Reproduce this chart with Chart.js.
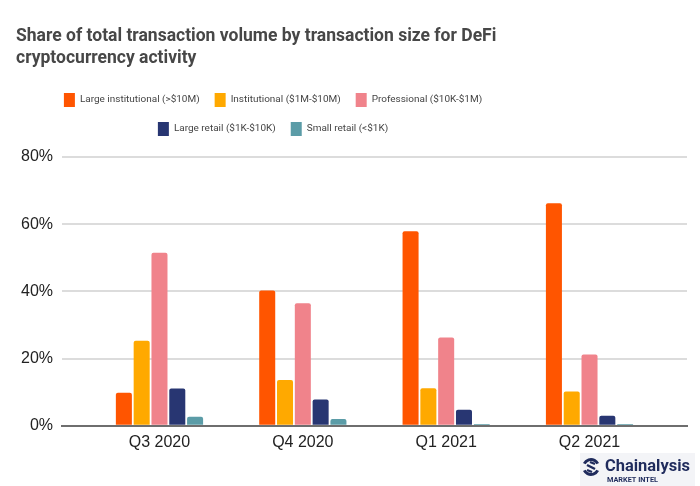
<!DOCTYPE html>
<html>
<head>
<meta charset="utf-8">
<script src="https://cdn.jsdelivr.net/npm/chart.js@4/dist/chart.umd.min.js"></script>
<style>
  html, body { margin: 0; padding: 0; background: #ffffff; }
  #wrap { width: 700px; height: 486px; position: relative; }
</style>
</head>
<body>
<div id="wrap"><canvas id="c" width="700" height="486"></canvas></div>
<script>
// ---- data ----
const categories = ['Q3 2020', 'Q4 2020', 'Q1 2021', 'Q2 2021'];
const seriesNames = [
  'Large institutional (>$10M)',
  'Institutional ($1M-$10M)',
  'Professional ($10K-$1M)',
  'Large retail ($1K-$10K)',
  'Small retail (<$1K)'
];
const largeInstitutional = [9.8, 40.3, 57.9, 66.2];
const institutional      = [25.3, 13.6, 11.2, 10.2];
const professional       = [51.5, 36.5, 26.3, 21.2];
const largeRetail        = [11.1, 7.8, 4.8, 3.0];
const smallRetail        = [2.7, 2.0, 0.5, 0.5];
const yTickValues = [0, 20, 40, 60, 80];
const titleLines = ['Share of total transaction volume by transaction size for DeFi', 'cryptocurrency activity'];
const seriesColors = ['#FF5500', '#FFA900', '#F0838B', '#283672', '#5B9CA7'];

const seriesValues = [largeInstitutional, institutional, professional, largeRetail, smallRetail];

const FAM = 'Roboto, "Liberation Sans", sans-serif';
const LEGEND_W = 514;

// font size that makes a text span a given width
const mctx = document.createElement('canvas').getContext('2d');
function fitSize(text, target, weight, family) {
  mctx.font = weight + ' 100px ' + family;
  return 100 * target / mctx.measureText(text).width;
}
const titleSize = fitSize(titleLines[0], 481, 'bold', FAM);
const legendSize = fitSize(seriesNames[0], 120, 'normal', FAM);
const logoSize = fitSize('Chainalysis', 85, 'bold', FAM);
const logoSubSize = fitSize('MARKET INTEL', 51, 'bold', FAM);

const legendFit = {
  id: 'legendFit',
  afterInit(chart) {
    const lg = chart.legend;
    const upd = lg.update.bind(lg);
    lg.update = (w, h, m) => { upd(LEGEND_W, h, m); lg.height += 11; };
  },
  afterLayout(chart) {
    const lg = chart.legend;
    lg.right = lg.left + LEGEND_W;
  }
};

const logo = {
  id: 'logo',
  afterDraw(chart) {
    const ctx = chart.ctx;
    ctx.save();
    ctx.fillStyle = '#f3f4f7';
    ctx.fillRect(580, 453, 115, 33);
    const cx = 591, cy = 467, r = 7.5;
    ctx.strokeStyle = '#1f2b5c';
    ctx.lineWidth = 3;
    ctx.beginPath(); ctx.arc(cx, cy, r, Math.PI * 0.15, Math.PI * 0.85); ctx.stroke();
    ctx.beginPath(); ctx.arc(cx, cy, r, Math.PI * 1.15, Math.PI * 1.85); ctx.stroke();
    ctx.lineWidth = 2.4;
    ctx.beginPath(); ctx.moveTo(cx - 4, cy - 2); ctx.lineTo(cx + 4, cy + 2); ctx.stroke();
    ctx.beginPath(); ctx.moveTo(cx - 4, cy + 3); ctx.lineTo(cx + 1, cy + 5); ctx.stroke();
    ctx.beginPath(); ctx.moveTo(cx - 1, cy - 5); ctx.lineTo(cx + 4, cy - 3); ctx.stroke();
    ctx.fillStyle = '#1f2b5c';
    ctx.textBaseline = 'alphabetic';
    ctx.textAlign = 'left';
    ctx.font = 'bold ' + logoSize + 'px ' + FAM;
    ctx.fillText('Chainalysis', 605, 471);
    ctx.font = 'bold ' + logoSubSize + 'px ' + FAM;
    ctx.fillText('MARKET INTEL', 607, 482);
    ctx.restore();
  }
};

const datasets = seriesNames.map((name, k) => ({
  label: name,
  data: seriesValues[k].map((v, i) => ({ x: i, y: v })),
  backgroundColor: seriesColors[k],
  borderColor: seriesColors[k],
  borderWidth: 0,
  borderRadius: 2,
  categoryPercentage: 0.621,
  barPercentage: 0.9
}));

Chart.defaults.font.family = '"Liberation Sans", Arial, sans-serif';
Chart.defaults.color = '#222';

new Chart(document.getElementById('c'), {
  type: 'bar',
  data: { datasets },
  plugins: [legendFit, logo],
  options: {
    responsive: false,
    animation: false,
    layout: { padding: { left: 16, right: 13, top: 0, bottom: 27 } },
    plugins: {
      tooltip: { enabled: false },
      title: {
        display: true,
        align: 'start',
        text: titleLines,
        color: '#474747',
        font: { family: FAM, size: titleSize, weight: 'bold', lineHeight: 22 / titleSize },
        padding: { top: 26, bottom: 8 }
      },
      legend: {
        display: true,
        position: 'top',
        align: 'center',
        labels: {
          boxWidth: 11,
          boxHeight: 14,
          padding: 15,
          color: '#444',
          font: { family: FAM, size: legendSize }
        }
      }
    },
    scales: {
      x: {
        type: 'linear',
        offset: false,
        min: -0.68,
        max: 3.68,
        afterBuildTicks: (s) => { s.ticks = categories.map((c, i) => ({ value: i })); },
        ticks: {
          callback: (v) => categories[v],
          autoSkip: false,
          maxRotation: 0,
          padding: 7,
          color: '#222',
          font: { size: 16 }
        },
        grid: { display: false, drawTicks: false },
        border: { display: true, color: '#6e6e6e', width: 2 }
      },
      y: {
        min: 0,
        max: 80,
        afterBuildTicks: (s) => { s.ticks = yTickValues.map(v => ({ value: v })); },
        afterFit: (s) => { s.width = 46; },
        ticks: {
          stepSize: 20,
          callback: (v) => v + '%',
          padding: 9,
          color: '#222',
          font: { size: 16 }
        },
        grid: { color: '#dcdcdc', lineWidth: 2, drawTicks: false },
        border: { display: false }
      }
    }
  }
});
</script>
</body>
</html>
